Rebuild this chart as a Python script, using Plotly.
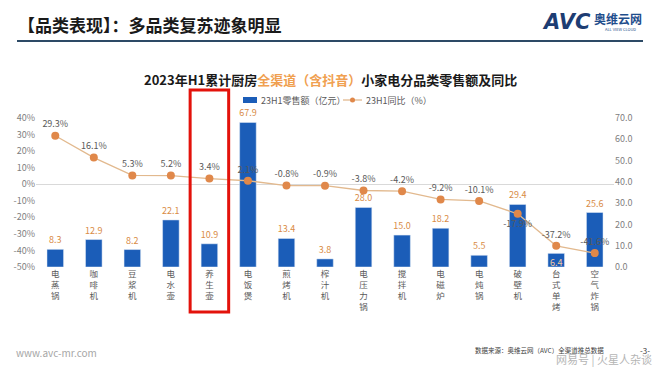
import plotly.graph_objects as go

categories = ["电蒸锅", "咖啡机", "豆浆机", "电水壶", "养生壶", "电饭煲", "煎烤机", "榨汁机",
              "电压力锅", "搅拌机", "电磁炉", "电炖锅", "破壁机", "台式单烤", "空气炸锅"]
sales = [8.3, 12.9, 8.2, 22.1, 10.9, 67.9, 13.4, 3.8, 28.0, 15.0, 18.2, 5.5, 29.4, 6.4, 25.6]
yoy = [29.3, 16.1, 5.3, 5.2, 3.4, 2.1, -0.8, -0.9, -3.8, -4.2, -9.2, -10.1, -17.9, -37.2, -41.6]
left_ticks = [40, 30, 20, 10, 0, -10, -20, -30, -40, -50]
right_ticks = [70, 60, 50, 40, 30, 20, 10, 0]
series_names = ["23H1零售额（亿元）", "23H1同比（%）"]

FONT = "Noto Sans CJK SC"
GRAY = "#595959"
BAR_COLOR = "#1b5db8"
LINE_COLOR = "#e2b98e"
MARKER_COLOR = "#e0884a"

# page offset (browser body margin)
OFF = 8
W, H = 660 - OFF, 372 - OFF
PL, PR, PT, PB = 36, 614, 118, 267  # plot area in page pixels

tick_text = ["<br>".join(list(c)) for c in categories]

bar_pos = ["outside"] * len(sales)
bar_pos[13] = "inside"
bar_text_col = ["#d98c46"] * len(sales)
bar_text_col[13] = "#f3c9a0"

line_pos = ["top center"] * len(yoy)
line_pos[12] = "bottom center"

fig = go.Figure()
fig.add_trace(go.Bar(
    x=categories, y=sales, name=series_names[0],
    marker=dict(color=BAR_COLOR), width=0.43,
    text=[f"{v:.1f}" for v in sales], textposition=bar_pos, textangle=0,
    textfont=dict(size=9, color=bar_text_col, family=FONT),
    insidetextanchor="end", cliponaxis=False, yaxis="y",
))
fig.add_trace(go.Scatter(
    x=categories, y=yoy, name=series_names[1], yaxis="y2",
    mode="lines+markers+text",
    line=dict(color=LINE_COLOR, width=1.3),
    marker=dict(color=MARKER_COLOR, size=8),
    text=[f"{v:.1f}%" for v in yoy], textposition=line_pos,
    textfont=dict(size=9, color=GRAY, family=FONT), cliponaxis=False,
))

fig.update_layout(
    width=W, height=H,
    margin=dict(l=PL - OFF, r=W - (PR - OFF), t=PT - OFF, b=H - (PB - OFF)),
    paper_bgcolor="white", plot_bgcolor="white",
    font=dict(family=FONT, color=GRAY),
    uniformtext=dict(minsize=9, mode="show"),
    showlegend=False,
    xaxis=dict(tickmode="array", tickvals=categories, ticktext=tick_text,
               range=[-0.5, len(categories) - 0.5],
               tickfont=dict(size=8.5, color=GRAY), showgrid=False, showline=False,
               ticks="", tickangle=0, automargin=False),
    yaxis=dict(range=[0, 70], side="right", tickvals=right_ticks,
               ticktext=[f"{v:.1f}" for v in right_ticks],
               tickfont=dict(size=9, color="#808080"), showgrid=False, zeroline=False,
               showline=False, automargin=False),
    yaxis2=dict(range=[-50, 40], side="left", overlaying="y", tickvals=left_ticks,
                ticktext=[f"{v}%" for v in left_ticks],
                tickfont=dict(size=9, color="#808080"), showgrid=False,
                zeroline=True, zerolinecolor="#d9d9d9", zerolinewidth=1, automargin=False),
)

def px_x(x):
    return (x - PL) / (PR - PL)

def px_y(y):
    return (PB - y) / (PB - PT)

shapes = [
    # highlight box around 养生壶
    dict(type="rect", xref="x", yref="paper", x0=3.5, x1=4.5, y0=px_y(312), y1=px_y(90),
         line=dict(color="#e3120b", width=3), fillcolor="rgba(0,0,0,0)"),
    # header rule
    dict(type="line", xref="paper", yref="paper", x0=px_x(17), x1=px_x(643),
         y0=px_y(41), y1=px_y(41), line=dict(color="#2d4a66", width=2)),
    # legend swatches
    dict(type="rect", xref="paper", yref="paper", x0=px_x(243), x1=px_x(257),
         y0=px_y(103), y1=px_y(97), line=dict(width=0), fillcolor=BAR_COLOR),
    dict(type="line", xref="paper", yref="paper", x0=px_x(343), x1=px_x(362),
         y0=px_y(100), y1=px_y(100), line=dict(color=LINE_COLOR, width=1.3)),
    dict(type="circle", xref="paper", yref="paper", x0=px_x(350), x1=px_x(355),
         y0=px_y(102.5), y1=px_y(97.5), line=dict(width=0), fillcolor=MARKER_COLOR),
]
fig.update_layout(shapes=shapes)

ann = [
    dict(x=px_x(259), y=px_y(100), text=series_names[0], xanchor="left", yanchor="middle",
         font=dict(size=9, color=GRAY)),
    dict(x=px_x(364), y=px_y(100), text=series_names[1], xanchor="left", yanchor="middle",
         font=dict(size=9, color=GRAY)),
    dict(x=px_x(16), y=px_y(25), text="<b>【品类表现】：多品类复苏迹象明显</b>", xanchor="left",
         yanchor="middle", font=dict(size=17, color="#1a1a1a")),
    dict(x=px_x(330), y=px_y(80),
         text="<b>2023年H1累计厨房<span style='color:#f0a050'>全渠道（含抖音）</span>小家电分品类零售额及同比</b>",
         xanchor="center", yanchor="middle", font=dict(size=13, color="#1a1a1a")),
    dict(x=px_x(566), y=px_y(22), text="<b><i>AVC</i></b>", xanchor="center", yanchor="middle",
         font=dict(size=21, color="#1d3d73", family="DejaVu Sans")),
    dict(x=px_x(618), y=px_y(18), text="<b>奥维云网</b>", xanchor="center", yanchor="middle",
         font=dict(size=12, color="#1f4e8c")),
    dict(x=px_x(620), y=px_y(29), text="ALL VIEW CLOUD", xanchor="center", yanchor="middle",
         font=dict(size=4, color="#1f4e8c")),
    dict(x=px_x(14), y=px_y(352), text="www.avc-mr.com", xanchor="left", yanchor="middle",
         font=dict(size=10, color="#a6a6a6")),
    dict(x=px_x(473), y=px_y(350), text="数据来源：奥维云网（AVC）全渠道推总数据", xanchor="left",
         yanchor="middle", font=dict(size=6.5, color="#404040")),
    dict(x=px_x(645), y=px_y(350), text="-3-", xanchor="center", yanchor="middle",
         font=dict(size=8, color="#404040")),
    dict(x=px_x(604), y=px_y(359), text="网易号 | 火星人杂谈", xanchor="center", yanchor="middle",
         font=dict(size=11, color="#b5b5b5")),
]
for a in ann:
    a.update(xref="paper", yref="paper", showarrow=False)
fig.update_layout(annotations=ann)

fig.write_html("out.html")
